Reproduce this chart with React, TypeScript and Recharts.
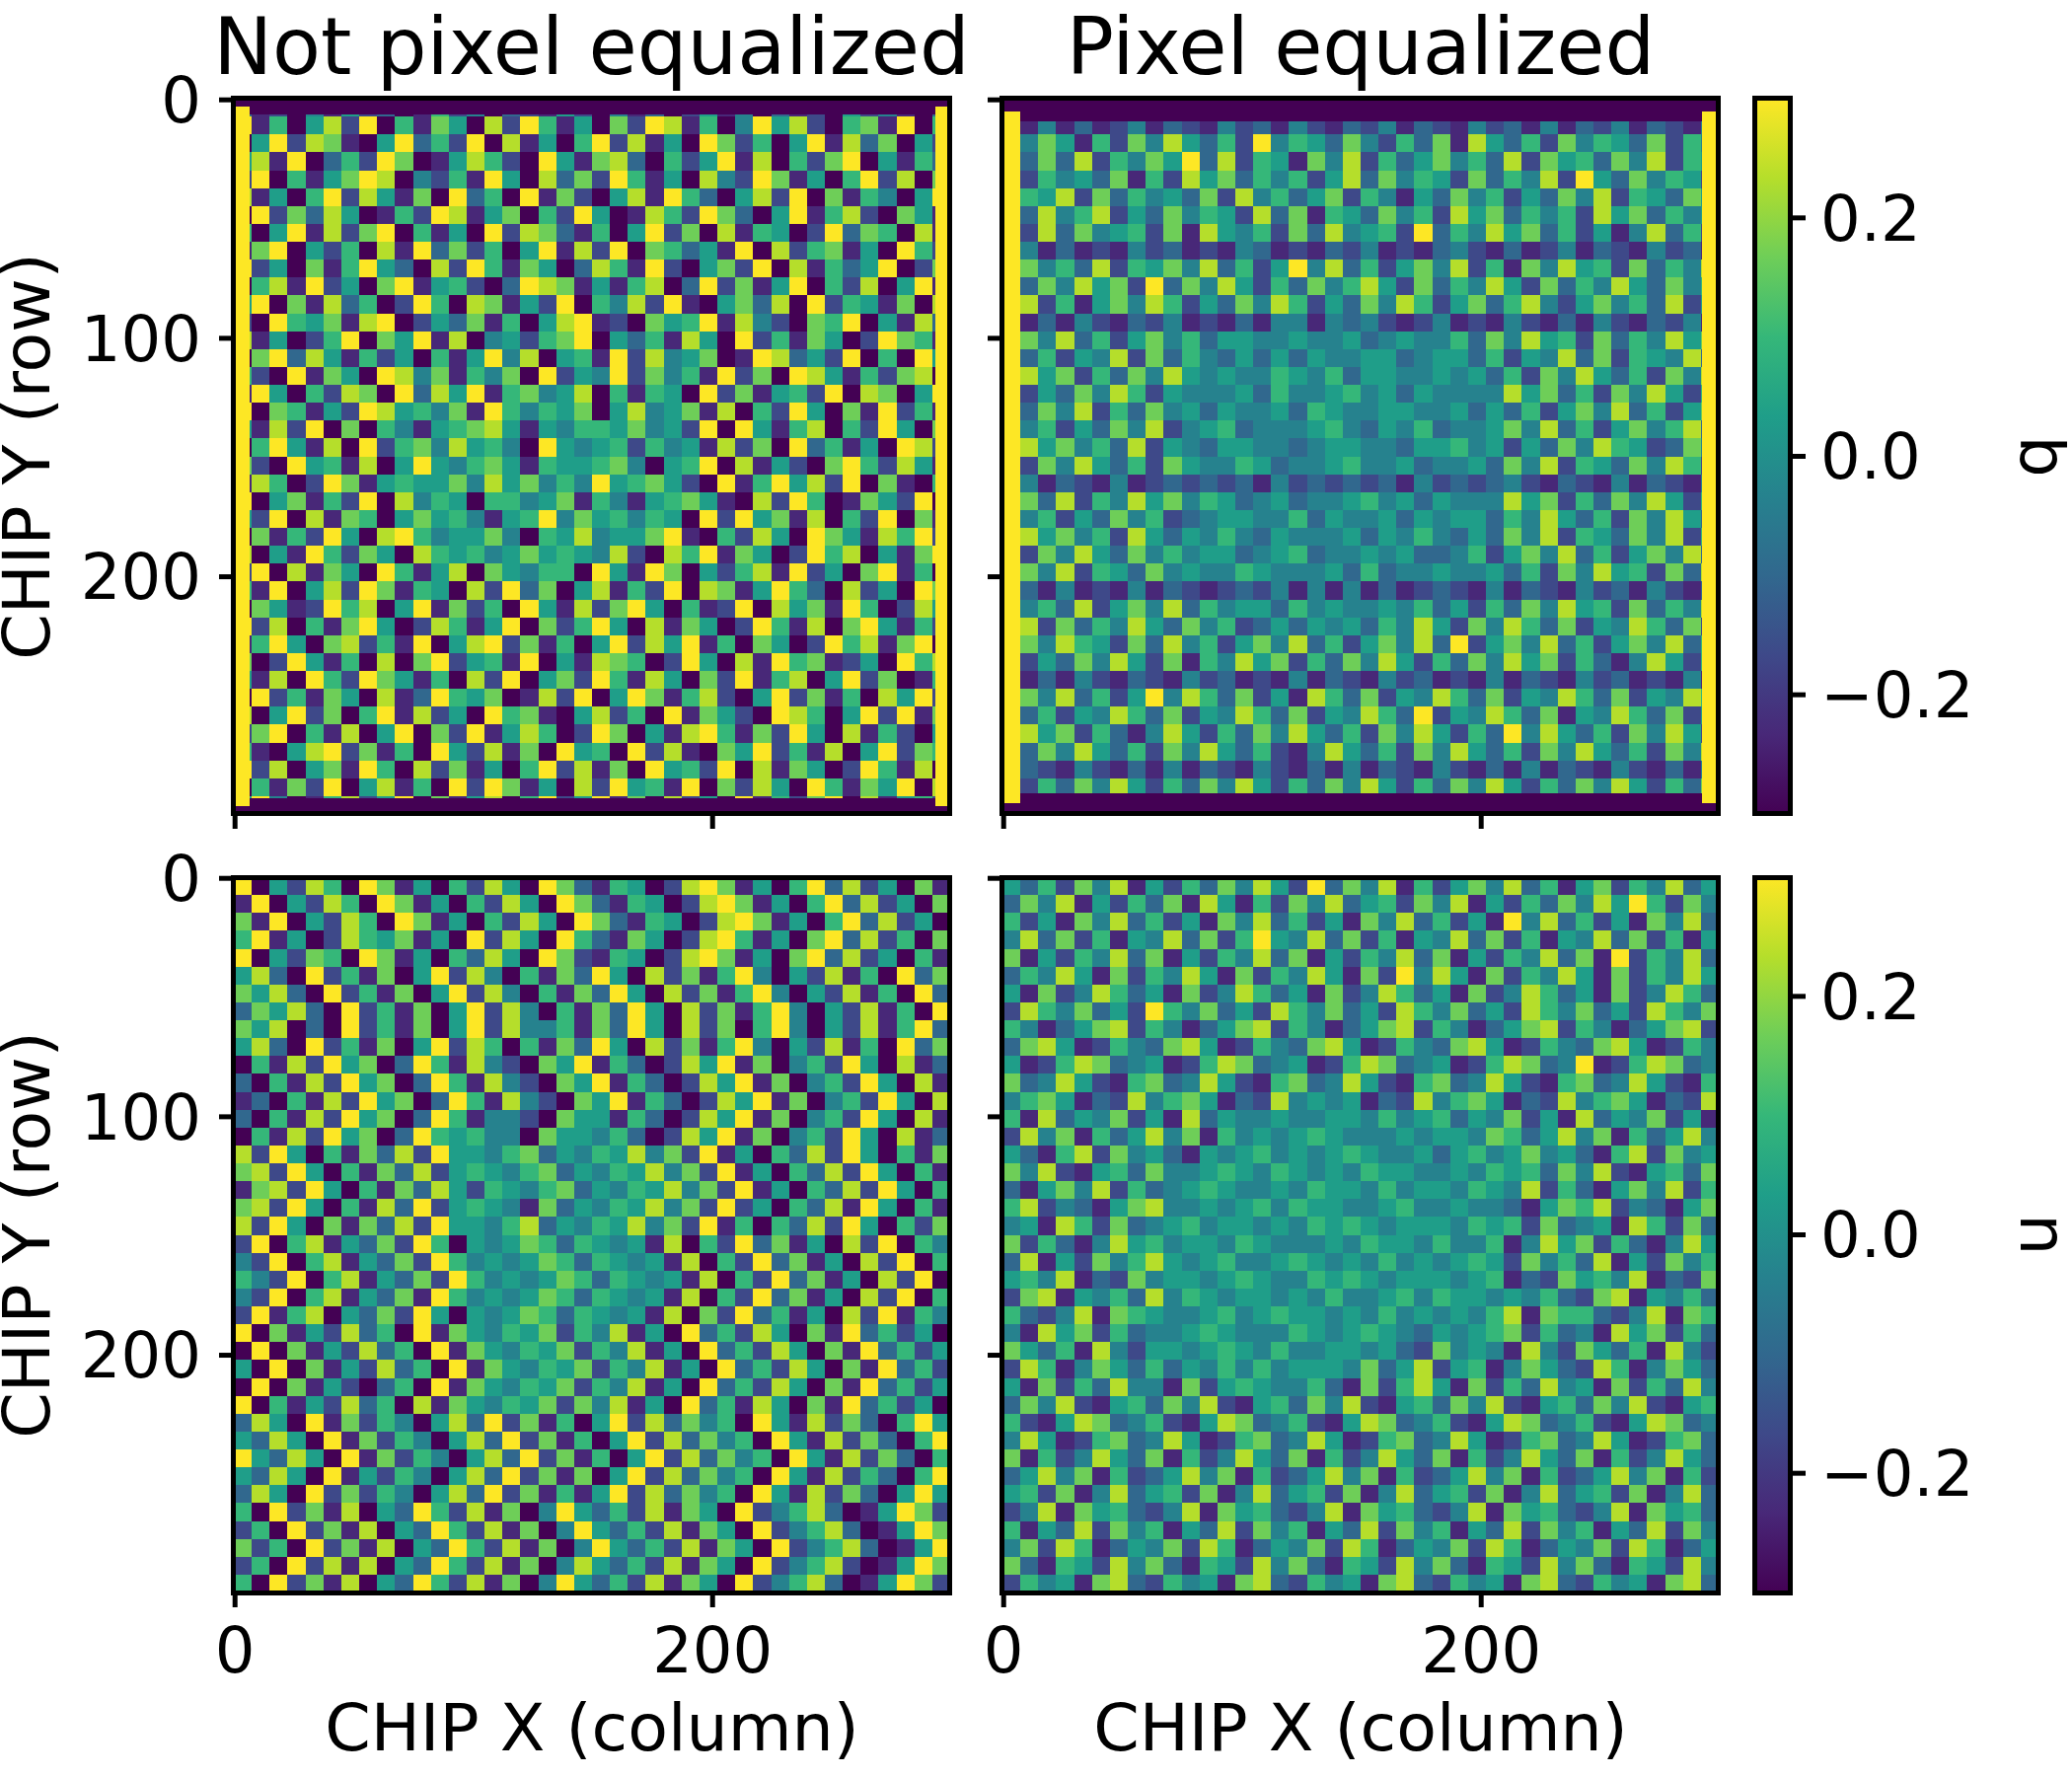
import React from 'react';
import { ScatterChart, Scatter, XAxis, YAxis, ReferenceArea } from 'recharts';

// Levels 0-9 run from -0.3 to +0.3 on the colour scale. Each panel is a coarse 40x40
// hand estimate of the reference: regional structure and contrast, not exact cells.
const GRID_SIZE = 40;
const GRID_UNITS = 7.5;

const Q_RAW_ROWS = [
  "3120415230162403215204130251403120524103",
  "9160582906175082961507298160495820671906",
  "0592871059362908150692815097260591837052",
  "5819036297015862095178306259180627905163",
  "2906157980426195083729615084297150692807",
  "8150692851709360917205819630582907164059",
  "0927385016298157062950186297305916820751",
  "6059182790615092873160592708165029376081",
  "1790526081937260591829076351908267150962",
  "9250716953082961750386192057290816359027",
  "0681925079156203987151680392715906280591",
  "5907183602960871529064829105738092651708",
  "2096571890253716058912075691842076905183",
  "8150269075918045267905361850926175029761",
  "0793851625061594805619284570198352906095",
  "6209175098471647092549274619270985162780",
  "1950628709385916745806165092715629087059",
  "9076152985647196465705845718062950719261",
  "5182907064156785154665745290951680629507",
  "0695180926748564095456264518270936150982",
  "7209561805954675165567405690815207962851",
  "1860297156557485746495675209169582907106",
  "9057162908465066457164156751082960175290",
  "5290817605756415694756465092957180629071",
  "0716295089645574065845579106285097518692",
  "8051962750865645756548208691750296805179",
  "2908175096158075466095197052681925079160",
  "6190582971650829370581629087159630825097",
  "0751296805917260951827950612908571960285",
  "9280617950286159072695081750296180795162",
  "1695078261905892716059285916075029681790",
  "7029516080792561905187602950819671250968",
  "5180962975160829057296185072916805927016",
  "0926175081396570182905971682059271608592",
  "8059270691825096710582609175209860592917",
  "2790618059072915860297051896172950816205",
  "6105892716095281709560928107592618059276",
  "9280571960827150692817095629081750296180",
  "0617290581609297150829561907285096175908",
  "5940168259071580692591708250916279081562"
];

const Q_EQ_ROWS = [
  "5264736258162536475283746153647526394625",
  "2141312413214231421324132142314132413214",
  "6475162748536294653742637185362746537264",
  "5373826475938265174826357463827563748265",
  "7264537162857364625837465273648295374652",
  "4658273645372846357264153746253748265375",
  "5384682537465283716537462857364628573645",
  "6283745627185462738456293648573625148362",
  "2413121423121431213241213421312413214231",
  "5746382657483625948362574826174856273648",
  "6374857293748526374685273648527364853746",
  "4826157486253748625374862573684257463825",
  "2131421324121314414342124121421314213241",
  "5748362574635544544534544637485627364857",
  "7362548273643535354455345536254837265483",
  "4857263748545446546355445453627485362748",
  "6253748625444536445645354444857362748526",
  "5374826374535445365445544535362574836257",
  "7462537482456344456435463445748362574683",
  "3857463825435544345544355645253748652374",
  "6274853627544653445644534453748265374862",
  "2413214123232314232323142323421321413214",
  "5738264857465345344564535444857263748526",
  "7462537462345544635445354553648536274853",
  "3857462853546435444535464353748265374826",
  "6274853746455345634454533462574836257483",
  "5748265374544654445363445445362748562738",
  "2314121413212324141413123214132142314213",
  "7463825748364553645445463526374856273648",
  "5827364853746235354536485274863725486372",
  "3748652738462574836257483925748362574836",
  "6253748527164857263748526374857263148526",
  "2131421321423121413214231214132142312141",
  "5748362594863725186372548637254863725486",
  "7362548637254863725486392548637154863725",
  "4857263148526374853627485263948536274852",
  "6374853627485362148536274853627485362748",
  "1321421314132142131413214213141321421314",
  "5263748526374852637485263748526374852637",
  "7485263748526374852637485263748526374852"
];

const U_RAW_ROWS = [
  "9052860971506285097316502897150693825071",
  "1905286097150628509731650289715069382507",
  "7190528609715062850973165028971506938250",
  "6915028657150928509631750289615079382607",
  "9052760971506385097216502897150793825061",
  "5830926170592840617395082716940528160937",
  "7583092617059284061739508271694052816093",
  "3758309261705928406173950827169405281609",
  "7580309261705928446173950827069405281693",
  "5830926170592860617395082716940528160937",
  "0618295703961842075916302859170462950813",
  "3061829570396184207591630285917046295081",
  "1306182957039618420759163028591704629508",
  "3061829570396144207551630285917046295081",
  "0618295703965644075546302859170462950813",
  "8295061738295546735465847291506382950617",
  "7829506173825654673546584729150638295061",
  "1782950617385265467354658472915063829506",
  "7829506183925654173546584729250638195061",
  "8295071738295546835465847291606382950627",
  "2906815372960545763654518062937150829064",
  "4290681537296454576365451806293715082906",
  "6429068153729645457636545180629371508290",
  "4290681537196454576365451806293715082906",
  "2916805372950545763654518072936150829164",
  "9071528360917546572648150936285071936250",
  "0907152836091754657264815093628507193625",
  "5090715283609175465726481509362850719362",
  "0907152036091754657264815093628507193625",
  "9061528360817546572748150936185071936250",
  "3850917264058392716059283746095182730695",
  "5385091726405839271605928374609518273069",
  "9538509172640583927160592837460951827306",
  "5385091526405839271705928374609518263069",
  "3850927264058392716159283746095182730595",
  "6092718053962817049536281750924683015972",
  "2609271805396281704953628175092468301597",
  "7260927180539628170495362817509246830159",
  "2609281805396281704853628175092468201597",
  "6092718053962817049536281750924683015972"
];

const U_EQ_ROWS = [
  "5362748152637485293748162574836157264835",
  "3748152637185162748356274815263748596274",
  "6251748362517483625174836251948362517483",
  "4837261548372695483726154837261548372615",
  "7152648371526483715264837152648371926483",
  "3648517264851726485172948517264851726485",
  "5172486351724863517248635172486351724863",
  "2864735296473528647352864735286473528647",
  "6413578264135782641357826413578264135782",
  "3785126437851264378512643785126437851264",
  "5126873451268734512687345126873491268734",
  "7348521673485216734852167348521673485216",
  "4675132846751328454513284675132846751328",
  "6183547251835445445546456354725183547251",
  "2847163584716454565444545547635847163584",
  "5316827453154564545654453564574531682745",
  "7482156374456546545465544546563748215637",
  "3157482634565445465546455465482631574826",
  "6824315784454564655445644544315768243157",
  "4518627345645545465654555465627345186273",
  "7263148564554654445465546446148572631485",
  "3815274685456445654546454565274638152746",
  "5648132745545654465654555456132756481327",
  "2781546384654554546445646554546327815463",
  "6324817654456456554546454546817663248176",
  "4185726344565444654565435456726341857263",
  "7536184255456546445545327454184275361842",
  "2861475363546464555473582561475328614753",
  "5172638441725654463172685172638451726384",
  "3748215637482156374821563748215637482156",
  "6215873462158734621587346215873462158734",
  "4851267348512673485126734851267348512673",
  "7162485371624853716248537162485371624853",
  "3584716235847162358471623584716235847162",
  "5627148356271483562714835627148356271483",
  "2481756324817563248175632481756324817563",
  "6153827461538274615382746153827461538274",
  "4728613547286135472861354728613547286135",
  "7316528473165284731652847316528473165284",
  "2645178326451783264517832645178326451783"
];

// [x from, x to, y from, y to, level] for the solid bands round the q panels
const Q_RAW_BANDS = [
  [-0.5, 299.5, -0.5, 6, 0],
  [-0.5, 299.5, 293, 299.5, 0],
  [-0.5, 6, 3, 296, 9],
  [293.5, 299.5, 3, 296, 9]
];
const Q_EQ_BANDS = [
  [-0.5, 299.5, -0.5, 9, 0],
  [-0.5, 299.5, 291, 299.5, 0],
  [-0.5, 7, 5, 295, 9],
  [292.5, 299.5, 5, 295, 9]
];

const VIRIDIS = ['#440154', '#482878', '#3e4989', '#31688e', '#26828e', '#1f9e89', '#35b779', '#6ece58', '#b5de2b', '#fde725'];
const X_TICKS = [0, 200];
const Y_TICKS = [0, 100, 200];
const CB_TICKS = [-0.2, 0, 0.2];
const DOMAIN = [-0.5, 299.5];

const FONT = '"DejaVu Sans"';
const PW = 726, PH = 725;
const PX_PER_UNIT_X = PW / 300;
const PX_PER_UNIT_Y = PH / 300;
const ML = 240, MT = 60, MB = 175, MR = 30;
const TICK_FS = 64;
const LABEL_FS = 66.6;
const TITLE_FS = 80;
const SPINE = 5;

function buildCells(rows, bands = []) {
  const cells = [];
  rows.forEach((raw, r) => {
    const row = raw.slice(0, GRID_SIZE).padEnd(GRID_SIZE, '5');
    for (let c = 0; c < row.length; c++) {
      cells.push({
        x: -0.5 + (c + 0.5) * GRID_UNITS,
        y: -0.5 + (r + 0.5) * GRID_UNITS,
        w: GRID_UNITS,
        h: GRID_UNITS,
        v: Number(row[c])
      });
    }
  });
  bands.forEach(([x0, x1, y0, y1, v]) => {
    cells.push({ x: (x0 + x1) / 2, y: (y0 + y1) / 2, w: x1 - x0, h: y1 - y0, v });
  });
  return cells;
}

const CellShape = (props) => {
  const { cx, cy, payload } = props;
  const w = payload.w * PX_PER_UNIT_X;
  const h = payload.h * PX_PER_UNIT_Y;
  return <rect x={cx - w / 2} y={cy - h / 2} width={w} height={h} fill={VIRIDIS[payload.v]} shapeRendering="crispEdges" />;
};

const tickStyle = { fontFamily: FONT, fontSize: TICK_FS, fill: '#000' };
const tickLine = { stroke: '#000', strokeWidth: SPINE };
const blank = () => '';

function Spines({ left, top, width }) {
  return (
    <div style={{ position: 'absolute', left: left - SPINE / 2, top: top - SPINE / 2, width: width + SPINE, height: PH + SPINE, boxSizing: 'border-box', border: `${SPINE}px solid #000` }} />
  );
}

function Heat({ cells, left, top, showX, showY, id }) {
  return (
    <>
      <div style={{ position: 'absolute', left: left - ML, top: top - MT }}>
        <ScatterChart width={ML + PW + MR} height={MT + PH + MB} margin={{ top: MT, left: 0, right: MR, bottom: 0 }}>
          <XAxis
            type="number" dataKey="x" domain={DOMAIN} ticks={X_TICKS} interval={0} allowDataOverflow
            height={MB} tickSize={15} tickMargin={21} axisLine={false} tickLine={tickLine}
            tick={tickStyle} tickFormatter={showX ? undefined : blank}
            label={showX ? { value: 'CHIP X (column)', position: 'insideBottom', offset: 15, style: { fontFamily: FONT, fontSize: LABEL_FS, fill: '#000' } } : undefined}
          />
          <YAxis
            type="number" dataKey="y" domain={DOMAIN} ticks={Y_TICKS} interval={0} allowDataOverflow reversed
            width={ML} tickSize={15} tickMargin={18} axisLine={false} tickLine={tickLine}
            tick={tickStyle} tickFormatter={showY ? undefined : blank}
            label={showY ? { value: 'CHIP Y (row)', angle: -90, position: 'insideLeft', offset: 29.5, style: { fontFamily: FONT, fontSize: LABEL_FS, fill: '#000', textAnchor: 'middle' } } : undefined}
          />
          <Scatter name={id} data={cells} shape={CellShape} isAnimationActive={false} />
        </ScatterChart>
      </div>
      <Spines left={left} top={top} width={PW} />
    </>
  );
}

const CB_X = [0, 1];
const CB_Y = [-0.3, 0.3];
const CB_W = 36;
const CB_ENDS = [{ x: 0, y: -0.3 }, { x: 1, y: 0.3 }];
const CB_AXIS = 280;

function ColorBar({ left, top, label, id }) {
  return (
    <>
      <div style={{ position: 'absolute', left, top: top - MT }}>
        <ScatterChart width={CB_W + CB_AXIS} height={MT + PH + MB} margin={{ top: MT, left: 0, right: 0, bottom: MB }}>
          <defs>
            <linearGradient id={id} x1="0" y1="1" x2="0" y2="0">
              {VIRIDIS.map((c, i) => <stop key={c} offset={`${(i / (VIRIDIS.length - 1)) * 100}%`} stopColor={c} />)}
            </linearGradient>
          </defs>
          <XAxis type="number" dataKey="x" domain={CB_X} hide />
          <YAxis
            type="number" dataKey="y" orientation="right" domain={CB_Y} ticks={CB_TICKS} interval={0} allowDataOverflow
            width={CB_AXIS} tickSize={15} tickMargin={15} axisLine={false} tickLine={tickLine}
            tick={tickStyle}
            tickFormatter={(v) => (v < 0 ? `\u2212${Math.abs(v).toFixed(1)}` : v.toFixed(1))}
            label={{ value: label, angle: -90, position: 'insideRight', offset: 34.5, style: { fontFamily: FONT, fontSize: LABEL_FS, fill: '#000', textAnchor: 'middle' } }}
          />
          <ReferenceArea x1={0} x2={1} y1={-0.3} y2={0.3} fill={`url(#${id})`} fillOpacity={1} stroke="none" ifOverflow="visible" />
          <Scatter data={CB_ENDS} shape={() => null} isAnimationActive={false} />
        </ScatterChart>
      </div>
      <Spines left={left} top={top} width={CB_W} />
    </>
  );
}

function Title({ text, center }) {
  return (
    <div style={{ position: 'absolute', left: center - 500, width: 1000, top: 8, textAlign: 'center', fontFamily: FONT, fontSize: TITLE_FS, lineHeight: '80px', color: '#000' }}>{text}</div>
  );
}

const COL_A = 236.5, COL_B = 1015.5, ROW_A = 99.5, ROW_B = 889, CB_LEFT = 1778.5;

export default function App() {
  return (
    <div style={{ position: 'absolute', left: 0, top: 0, width: 2100, height: 1800, background: '#fff', overflow: 'hidden' }}>
      <Title text="Not pixel equalized" center={599.5} />
      <Title text="Pixel equalized" center={1379} />
      <Heat id="q-raw" cells={buildCells(Q_RAW_ROWS, Q_RAW_BANDS)} left={COL_A} top={ROW_A} showX={false} showY />
      <Heat id="q-eq" cells={buildCells(Q_EQ_ROWS, Q_EQ_BANDS)} left={COL_B} top={ROW_A} showX={false} showY={false} />
      <Heat id="u-raw" cells={buildCells(U_RAW_ROWS)} left={COL_A} top={ROW_B} showX showY />
      <Heat id="u-eq" cells={buildCells(U_EQ_ROWS)} left={COL_B} top={ROW_B} showX showY={false} />
      <ColorBar id="cb-q" left={CB_LEFT} top={ROW_A} label="q" />
      <ColorBar id="cb-u" left={CB_LEFT} top={ROW_B} label="u" />
    </div>
  );
}
